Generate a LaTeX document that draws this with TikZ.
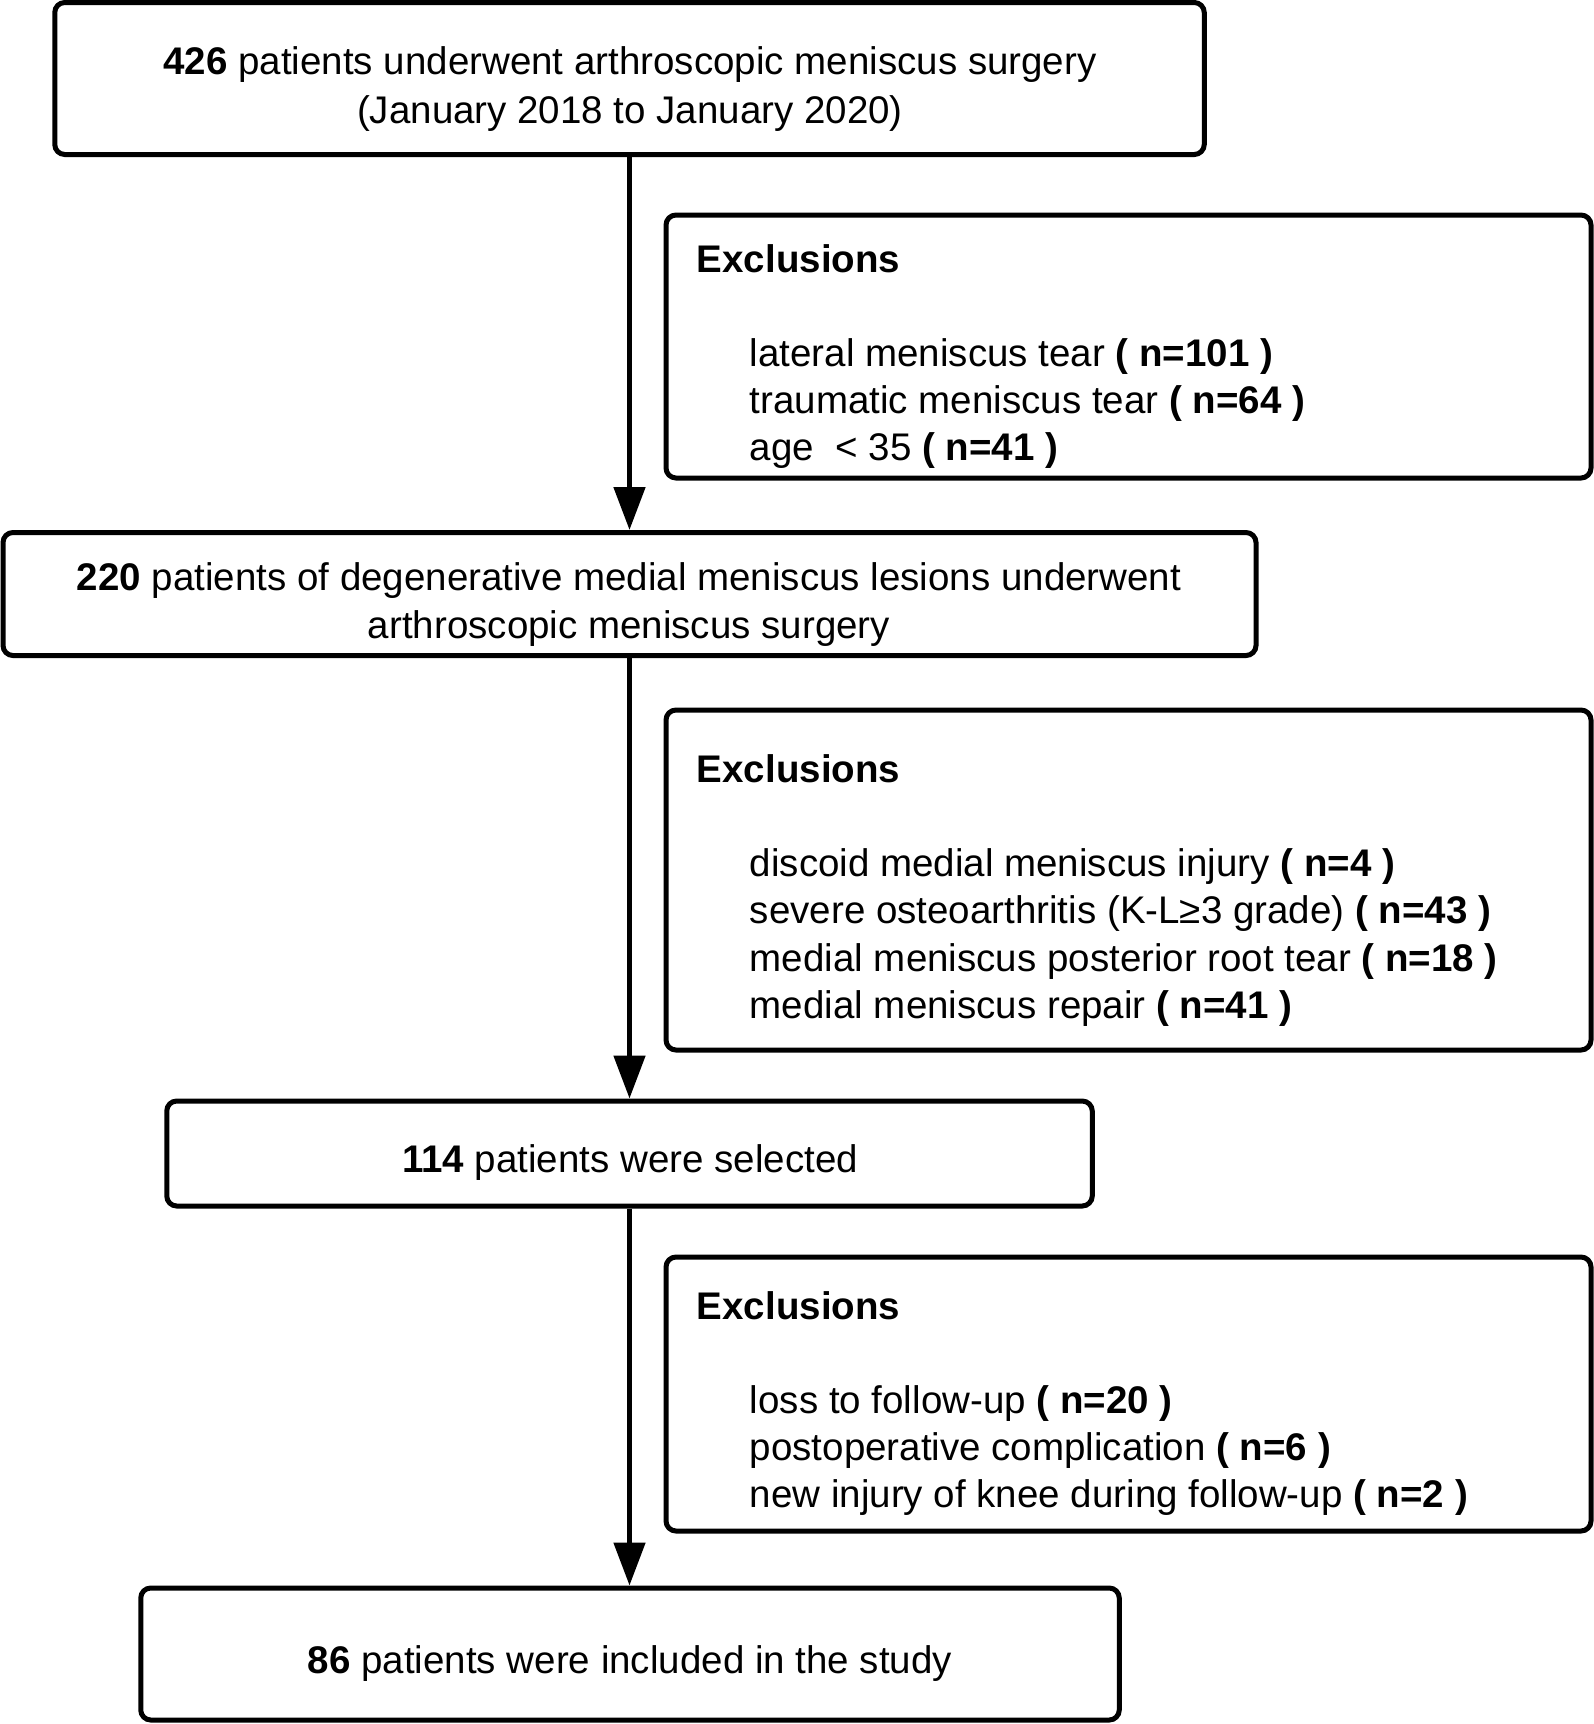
\documentclass[tikz,border=0pt]{standalone}
\usepackage{fontspec}
\setmainfont{Liberation Sans}
\usetikzlibrary{arrows.meta}
\begin{document}
\begin{tikzpicture}[x=0.5pt,y=-0.5pt,
  box/.style={draw=black, line width=2.5pt, rounded corners=5pt, inner sep=0pt},
  txt/.style={inner sep=0pt, font=\fontsize{19.25pt}{24.5pt}\selectfont},
  item/.style={txt, anchor=base west},
  flow/.style={line width=2.5pt, -{Triangle[length=21.5pt,width=15.5pt]}}]
\useasboundingbox (0,0) rectangle (1594,1724);
% main boxes
\node[box, minimum width=574.75pt, minimum height=76pt] (b1) at (629.5,78.5) {};
\node[box, minimum width=626.5pt, minimum height=61.5pt] (b2) at (629.5,594) {};
\node[box, minimum width=462.75pt, minimum height=52.5pt] (b3) at (629.5,1153.5) {};
\node[box, minimum width=489.25pt, minimum height=66pt] (b4) at (630,1654) {};
% exclusion boxes
\node[box, minimum width=462.5pt, minimum height=131.5pt] (e1) at (1128.5,346.5) {};
\node[box, minimum width=462.5pt, minimum height=170pt] (e2) at (1128.5,880) {};
\node[box, minimum width=462.5pt, minimum height=137pt] (e3) at (1128.5,1394) {};
% main texts
\node[txt, align=center] (t1) at (630,89.5) {\textbf{426} patients underwent arthroscopic meniscus surgery\\(January 2018 to January 2020)};
\node[txt, align=center, font=\fontsize{19.25pt}{24pt}\selectfont] (t2) at (629,605) {\textbf{220} patients of degenerative medial meniscus lesions underwent\\arthroscopic meniscus surgery};
\node[txt, anchor=base] (t3) at (630,1172.3) {\textbf{114} patients were selected};
\node[txt, anchor=base] (t4) at (630,1673.3) {\textbf{86} patients were included in the study};
% exclusions 1
\node[item] (h1) at (696.5,272) {\textbf{Exclusions}};
\node[item] (i11) at (749.5,366.5) {lateral meniscus tear \textbf{( n=101 )}};
\node[item] (i12) at (749.5,413.5) {traumatic meniscus tear \textbf{( n=64 )}};
\node[item] (i13) at (749.5,460.5) {age\ \ < 35 \textbf{( n=41 )}};
% exclusions 2
\node[item] (h2) at (696.5,782) {\textbf{Exclusions}};
\node[item] (i21) at (749.5,876.5) {discoid medial meniscus injury \textbf{( n=4 )}};
\node[item] (i22) at (749.5,923.8) {severe osteoarthritis (K-L≥3 grade) \textbf{( n=43 )}};
\node[item] (i23) at (749.5,971.1) {medial meniscus posterior root tear \textbf{( n=18 )}};
\node[item] (i24) at (749.5,1018.4) {medial meniscus repair \textbf{( n=41 )}};
% exclusions 3
\node[item] (h3) at (696.5,1319) {\textbf{Exclusions}};
\node[item] (i31) at (749.5,1413) {loss to follow-up \textbf{( n=20 )}};
\node[item] (i32) at (749.5,1460.5) {postoperative complication \textbf{( n=6 )}};
\node[item] (i33) at (749.5,1507.5) {new injury of knee during follow-up \textbf{( n=2 )}};
% arrows
\draw[flow] (b1.south) -- (b1.south |- b2.north);
\draw[flow] (b2.south) -- (b2.south |- b3.north);
\draw[flow] (b3.south) -- (b3.south |- b4.north);
\end{tikzpicture}
\end{document}
